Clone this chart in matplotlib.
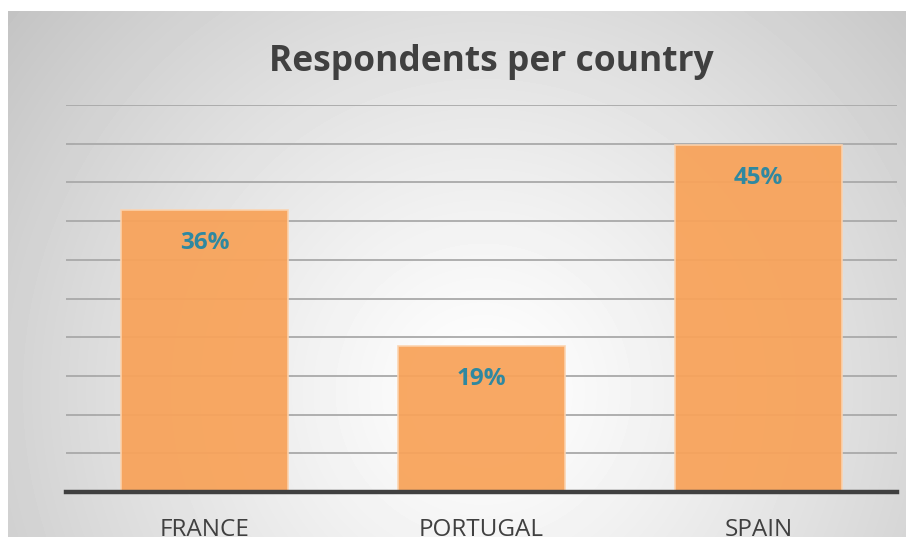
import numpy as np
import matplotlib.pyplot as plt

# chart data
countries = ["FRANCE", "PORTUGAL", "SPAIN"]
shares = [36.4, 18.8, 44.8]          # percent of respondents
share_labels = ["36%", "19%", "45%"]
title = "Respondents per country"

W, H = 906, 537
fig = plt.figure(figsize=(W / 100, H / 100), dpi=100)
fig.patch.set_facecolor("white")

# radial grey background of the chart box
bg = fig.add_axes([8 / W, 0, 1 - 8 / W, 1 - 11 / H])
yy, xx = np.mgrid[0:526, 0:898]
d = np.hypot(xx - 475, yy - 380) / 620
d = np.clip(d, 0, 1)
shade = 1.0 - 0.24 * d ** 1.2
bg.imshow(shade, cmap="gray", vmin=0, vmax=1, aspect="auto",
          extent=[0, 1, 0, 1], origin="upper", interpolation="bilinear")
bg.set_axis_off()

ax = fig.add_axes([66 / W, (H - 492) / H, (897 - 66) / W, (492 - 105) / H])
ax.set_facecolor("none")
x = np.arange(len(countries))
ax.set_xlim(-0.5, len(countries) - 0.5)
ax.set_ylim(0, 50)
ax.set_yticks(np.arange(0, 51, 5))
ax.yaxis.grid(True, color="#a9a9a9", linewidth=1.3)
ax.set_axisbelow(True)

bars = ax.bar(x, shares, width=0.605, color="#F8A35A", alpha=0.94,
              edgecolor="#FCD3AE", linewidth=1.2, zorder=2)

for xi, v, lab in zip(x, shares, share_labels):
    ax.annotate(lab, (xi, v), xytext=(0, -33), textcoords="offset pixels",
                ha="center", va="center", fontsize=17.5, fontweight="bold",
                color="#2F88A0", family="Open Sans", zorder=3)

ax.set_xticks(x)
ax.set_xticklabels(countries, fontsize=17.5, color="#404040", family="Open Sans")
ax.tick_params(axis="x", length=0, pad=19)
ax.tick_params(axis="y", length=0, labelleft=False)
for s in ["top", "right", "left"]:
    ax.spines[s].set_visible(False)
ax.spines["bottom"].set_color("#404040")
ax.spines["bottom"].set_linewidth(3.2)
ax.spines["bottom"].set_zorder(4)

fig.text(491 / W, 1 - 62 / H, title, ha="center", va="center",
         fontsize=25.5, fontweight="bold", color="#404040", family="Open Sans")

fig.savefig("out.png", dpi=100)
